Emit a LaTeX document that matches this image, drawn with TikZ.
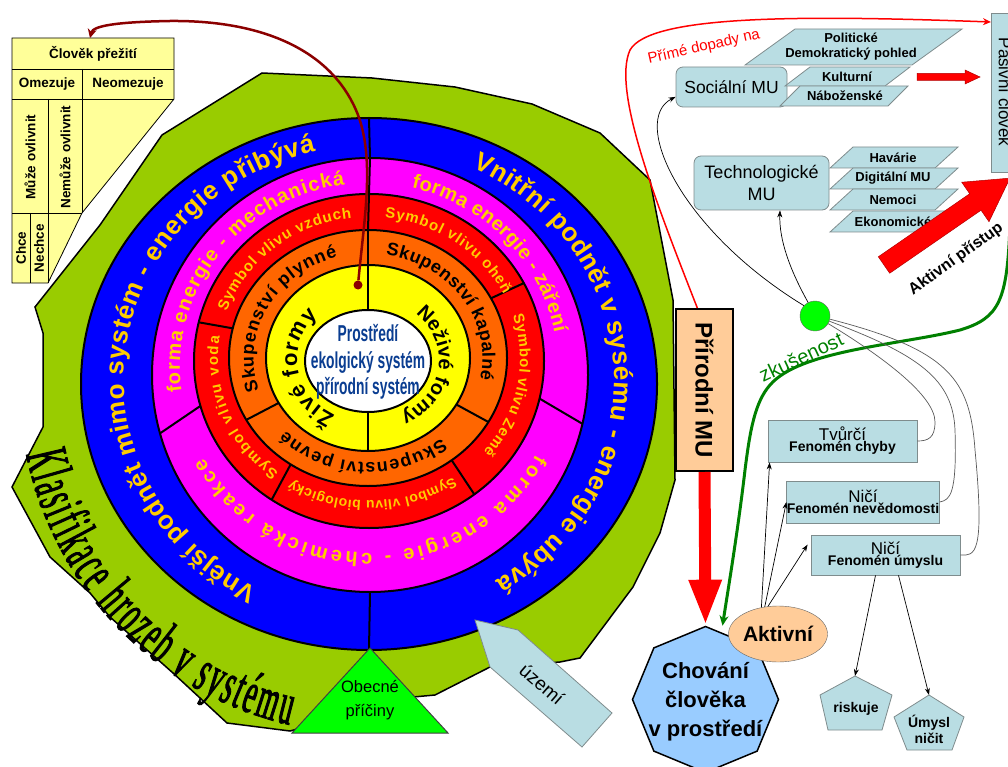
\documentclass[tikz,border=0pt]{standalone}
\usepackage{fontspec}
\setmainfont{Liberation Sans}
\newfontfamily\condsans{Liberation Sans}[FakeStretch=0.6]
\newfontfamily\narrowserif{Liberation Serif}[FakeStretch=0.45,FakeBold=1.5]
\usetikzlibrary{calc,decorations.text,arrows.meta,shapes.geometric}

\definecolor{bandgreen}{HTML}{99CC00}
\definecolor{ringblue}{HTML}{0000FF}
\definecolor{ringmag}{HTML}{FF00FF}
\definecolor{ringred}{HTML}{FF0000}
\definecolor{ringorange}{HTML}{FF6600}
\definecolor{ringyellow}{HTML}{FFFF00}
\definecolor{ringtext}{HTML}{FFCC00}
\definecolor{coreblue}{HTML}{0A3D91}
\definecolor{maroonline}{HTML}{8B0000}
\definecolor{tableyellow}{HTML}{FFFF99}
\definecolor{lightbox}{HTML}{B9DDE3}
\definecolor{boxedge}{HTML}{7F8C8D}
\definecolor{peach}{HTML}{FFCC99}
\definecolor{octblue}{HTML}{99CCFF}
\definecolor{brightgreen}{HTML}{00FF00}
\definecolor{pathgreen}{HTML}{008000}

% font presets for the ring captions
\newcommand\fBlueRing{\fontsize{26}{26}\selectfont\bfseries}
\newcommand\fMagRing{\fontsize{20}{20}\selectfont\bfseries}
\newcommand\fRedRing{\fontsize{15}{15}\selectfont\bfseries}
\newcommand\fRedSmall{\fontsize{14}{14}\selectfont\bfseries}
\newcommand\fOrRing{\fontsize{18}{18}\selectfont\bfseries}
\newcommand\fYelRing{\fontsize{20}{20}\selectfont\bfseries}
\newcommand\fYelBig{\fontsize{22}{22}\selectfont\bfseries}
\newcommand\fTitle{\narrowserif\fontsize{60}{60}\selectfont}

% text set along an elliptic arc: cx, cy, rx, ry, start, end, font, text, colour
\newcommand\arctext[9]{%
  \path[decorate,decoration={text along path,text align={fit to path},
        text color=#9,text={|#7|#8}}]
    ($(#1,#2)+(#5:#3 and #4)$) arc[start angle=#5,end angle=#6,x radius=#3,y radius=#4];}

\begin{document}
\begin{tikzpicture}[x=1pt,y=-1pt,
  ringfill/.style={draw=black,line width=2pt},
  sepline/.style={draw=black,line width=2pt},
  lbbox/.style={draw=boxedge,fill=lightbox,line width=0.8pt},
  thinarrow/.style={draw=black,line width=0.7pt,-{Stealth[length=7pt,width=5pt]}},
  tieline/.style={draw=black!65,line width=0.7pt},
  tabletext/.style={font=\bfseries\fontsize{13.5}{15}\selectfont,inner sep=0pt},
  paratext/.style={font=\bfseries\fontsize{13}{15}\selectfont,inner sep=0pt,align=center},
  plaintext/.style={inner sep=0pt,align=center}]

\useasboundingbox (0,0) rectangle (1008,767);
\clip (0,0) rectangle (1008,767);

% ---- outer green band ----
\filldraw[fill=bandgreen,draw=black,line width=1.5pt]
 (262,73) -- (372,78) -- (455,87) -- (532,104) -- (600,133) -- (650,180) -- (673,300)
 -- (675,480) -- (660,533) -- (633,587) -- (580,658) -- (560,662) -- (490,667)
 -- (435,695) -- (413,697) -- (290,731) -- (227,723) -- (173,673) -- (110,617)
 -- (90,593) -- (50,557) -- (12,487) -- (43,427) -- (43,333) -- (35,307)
 -- (100,225) -- (162,135) -- cycle;

% ---- concentric rings ----
\filldraw[ringfill,fill=ringblue]   (369,384) ellipse [x radius=288,y radius=266];
\filldraw[ringfill,fill=ringmag]    (370,375) ellipse [x radius=218,y radius=217];
\filldraw[ringfill,fill=ringred]    (369,361) ellipse [x radius=175,y radius=167];
\filldraw[ringfill,fill=ringorange] (368,358) ellipse [x radius=139,y radius=128];
\filldraw[ringfill,fill=ringyellow] (368,358) ellipse [x radius=102,y radius=93];
\filldraw[ringfill,fill=white]      (368,361) ellipse [x radius=63,y radius=51];

% ---- segment separators ----
\foreach \a in {270,90}
  \draw[sepline] ($(370,375)+(\a:218 and 217)$) -- ($(369,384)+(\a:288 and 266)$);
\foreach \a in {270,13,164.4}
  \draw[sepline] ($(369,361)+(\a:175 and 167)$) -- ($(370,375)+(\a:218 and 217)$);
\foreach \a in {270,332.2,53,123.8,193.4}
  \draw[sepline] ($(368,358)+(\a:139 and 128)$) -- ($(369,361)+(\a:175 and 167)$);
\foreach \a in {270,30,151.1}
  \draw[sepline] ($(368,358)+(\a:102 and 93)$) -- ($(368,358)+(\a:139 and 128)$);
\foreach \a in {270,90}
  \draw[sepline] ($(368,361)+(\a:63 and 51)$) -- ($(368,358)+(\a:102 and 93)$);

% ---- ring captions ----
\arctext{369}{380}{245}{234}{117}{257.5}{\fBlueRing}{Vnější podnět mimo systém - energie přibývá}{ringtext}
\arctext{369}{380}{245}{234}{295}{419}{\fBlueRing}{Vnitřní podnět v sysému - energie ubývá}{ringtext}

\arctext{369}{368}{189}{185}{172.6}{262.6}{\fMagRing}{forma energie - mechanická}{ringtext}
\arctext{369}{368}{189}{185}{283}{349}{\fMagRing}{forma energie - záření}{ringtext}
\arctext{369}{368}{189}{185}{28}{151}{\fMagRing}{forma energie - chemická reakce}{ringtext}

\arctext{369}{359}{151}{142}{199.5}{263.4}{\fRedRing}{Symbol vlivu vzduch}{ringtext}
\arctext{369}{359}{151}{142}{276}{333}{\fRedRing}{Symbol vlivu oheň}{ringtext}
\arctext{369}{359}{151}{142}{342.2}{400.8}{\fRedRing}{Symbol vlivu Země}{ringtext}
\arctext{369}{359}{151}{142}{56.2}{121}{\fRedSmall}{Symbol vlivu biologický}{ringtext}
\arctext{369}{359}{151}{142}{126.7}{189.2}{\fRedRing}{Symbol vlivu voda}{ringtext}

\arctext{368}{358}{114.5}{104.5}{162}{254.6}{\fOrRing}{Skupenství plynné}{black}
\arctext{368}{358}{114.5}{104.5}{279}{372}{\fOrRing}{Skupenství kapalné}{black}
\arctext{368}{358}{114.5}{104.5}{50}{136}{\fOrRing}{Skupenství pevné}{black}

\arctext{368}{360}{71}{62}{117.7}{225}{\fYelBig}{Živé formy}{black}
\arctext{368}{360}{71}{62}{312}{422}{\fYelRing}{Neživé formy}{black}

\arctext{369}{384}{350}{350}{168.4}{103.2}{\fTitle}{Klasifikace hrozeb v systému}{black}

% ---- core ----
\node[plaintext,text=coreblue,font=\condsans\bfseries\fontsize{23}{26.5}\selectfont]
  (core) at (368,362) {Prostředí\\ekolgický systém\\přírodní systém};

% ---- general causes and territory ----
\filldraw[fill=brightgreen,draw=black!75,line width=1pt]
  (370,648) -- (448,733) -- (292,733) -- cycle;
\node[plaintext,font=\fontsize{16.5}{24}\selectfont] (obec) at (370,700) {Obecné\\příčiny};

\filldraw[fill=lightbox,draw=boxedge,line width=0.8pt]
  (475,620) -- (518,630) -- (612,713) -- (582,747) -- (490,667) -- cycle;
\node[plaintext,rotate=-41,font=\fontsize{19}{19}\selectfont] (uzemi) at (542,684) {území};

% ---- survival table ----
\filldraw[fill=tableyellow,draw=black,line width=0.8pt]
  (12,38) -- (174,38) -- (174,99) -- (82,213) -- (48,283) -- (12,283) -- cycle;
\draw[black,line width=0.8pt] (12,69) -- (174,69) (12,99) -- (174,99)
  (82,69) -- (82,213) (48,99) -- (48,283) (12,213) -- (82,213) (30,213) -- (30,283);
\node[tabletext] (hdr) at (93,54) {Člověk přežití};
\node[tabletext] (omez) at (47,84) {Omezuje};
\node[tabletext] (neomez) at (128,84) {Neomezuje};
\node[tabletext,rotate=90] (muze) at (30,157) {Může ovlivnit};
\node[tabletext,rotate=90] (nemuze) at (65,157) {Nemůže ovlivnit};
\node[tabletext,rotate=90] (chce) at (21,248) {Chce};
\node[tabletext,rotate=90] (nechce) at (39,248) {Nechce};
\coordinate (hdrtop) at (90,38);

% ---- link from the centre to the table ----
\node[circle,fill=maroonline,inner sep=0pt,minimum size=9pt] (dot) at (358,285) {};
\draw[maroonline,line width=2.5pt,-{Stealth[length=9pt,width=9pt]}]
  (dot) .. controls (364,220) and (375,160) .. (358,115)
        .. controls (335,55) and (270,20) .. (170,21)
        .. controls (115,22) and (93,26) .. (hdrtop);

% ---- right-hand side ----
\node[lbbox,rounded corners=7pt,minimum width=111pt,minimum height=40pt,
      font=\fontsize{17.5}{20}\selectfont] (soc) at (731.5,87) {Sociální MU};
\node[lbbox,rounded corners=7pt,minimum width=135pt,minimum height=54pt,align=center,
      font=\fontsize{18}{22}\selectfont] (tech) at (761.5,183) {Technologické\\MU};

% parallelogram tags
\filldraw[lbbox] (795,29) -- (962,29) -- (912,65) -- (745,65) -- cycle;
\node[paratext] (polit) at (851,47) {Politické\\Demokratický pohled};
\filldraw[lbbox] (810,67) -- (910,67) -- (885,86) -- (785,86) -- cycle;
\node[paratext] (kult) at (847,77) {Kulturní};
\filldraw[lbbox] (800,86) -- (908,86) -- (888,106) -- (780,106) -- cycle;
\node[paratext] (nabo) at (845,96) {Náboženské};

\foreach \y/\t/\n in {147/Havárie/hav,168/Digitální MU/dig,189/Nemoci/nem,211/Ekonomické/eko}{
  \filldraw[lbbox] (853,\y) -- (958,\y) -- (935,\y+21) -- (830,\y+21) -- cycle;
  \node[paratext] (\n) at (893,\y+10.5) {\t};
}

% passive human
\node[lbbox,minimum width=24pt,minimum height=159pt,anchor=north west,inner sep=0pt] (pas) at (991,13) {};
\node[plaintext,rotate=-90,font=\fontsize{17}{17}\selectfont] (paslbl) at (1005,92) {Pasivní člověk};

% block arrow towards the passive human
\filldraw[fill=ringred,draw=red!70!black,line width=0.5pt]
  (917,73.5) -- (965,73.5) -- (965,70) -- (980,77) -- (965,84) -- (965,80.5) -- (917,80.5) -- cycle;

% active approach arrow
\begin{scope}[shift={(884,265)},rotate=34.6]
  \filldraw[fill=ringred,draw=red!70!black,line width=0.5pt]
    (0,-10) -- (111,-10) -- (111,-24) -- (153,0) -- (111,24) -- (111,10) -- (0,10) -- cycle;
\end{scope}
\node[plaintext,rotate=36,font=\bfseries\fontsize{16}{16}\selectfont] (aktlbl) at (956,259) {Aktivní přístup};

% natural hazards
\node[draw=black,line width=2pt,fill=peach,minimum width=57pt,minimum height=162pt,inner sep=0pt] (nat) at (704.5,390) {};
\node[plaintext,rotate=-90,font=\bfseries\fontsize{24}{24}\selectfont] (natlbl) at (704.5,390) {Přírodní MU};

% direct impacts
\draw[red,line width=1.5pt,-{Stealth[length=8pt,width=7pt]}]
  (nat.95) .. controls (655,200) and (612,90) .. (630,50)
           .. controls (650,15) and (800,15) .. ($(pas.north west)+(0,9)$);
\node[plaintext,text=red,rotate=12.8,font=\fontsize{15}{15}\selectfont] (primelbl) at (704,47) {Přímé dopady na};

% hub
\node[circle,draw=black!60,fill=brightgreen,minimum size=30pt,inner sep=0pt] (gc) at (815,316) {};
\draw[thinarrow] (gc.137) .. controls (680,230) and (630,120) .. (soc.190);
\draw[thinarrow] (gc.117) .. controls (790,270) and (779,240) .. (tech.-56);

% behaviour of the human
\node[regular polygon,regular polygon sides=8,shape border rotate=22.5,minimum size=146pt,
      inner sep=0pt,draw=black,line width=1.5pt,fill=octblue] (chov) at (705.5,699.5) {};
\node[plaintext,font=\bfseries\fontsize{22}{29}\selectfont] (chovlbl) at (705.5,702) {Chování\\člověka\\v prostředí};

\draw[red,line width=12pt,-{Triangle[width=30pt,length=46pt]}] (nat.south) -- (chov.north);

% experience
\draw[pathgreen,line width=3pt,-{Stealth[length=10pt,width=9pt]}]
  (1010,225) .. controls (1007,300) and (1000,318) .. (960,330)
             .. controls (900,345) and (800,350) .. (770,385)
             .. controls (755,402) and (750,430) .. (745,470)
             .. controls (738,530) and (728,590) .. ($(chov.north)+(17,0)$);
\node[plaintext,text=pathgreen,rotate=25,font=\fontsize{20}{20}\selectfont] (zkus) at (801,357) {zkušenost};

% phenomena boxes
\node[lbbox,minimum width=149pt,minimum height=42pt,align=center] (tv) at (842.5,441)
  {{\fontsize{17}{19}\selectfont Tvůrčí}\\[-1pt]{\bfseries\fontsize{14}{16}\selectfont Fenomén chyby}};
\node[lbbox,minimum width=150pt,minimum height=42pt,inner sep=0pt,align=center] (nev) at (863,502)
  {{\fontsize{17}{19}\selectfont Ničí}\\[-1pt]{\bfseries\fontsize{14}{16}\selectfont Fenomén nevědomosti}};
\node[lbbox,minimum width=149pt,minimum height=40pt,align=center] (um) at (885.5,555)
  {{\fontsize{17}{19}\selectfont Ničí}\\[-1pt]{\bfseries\fontsize{14}{16}\selectfont Fenomén úmyslu}};

\draw[tieline] (gc.-30) .. controls (880,355) and (935,395) .. (935,422)
               .. controls (935,438) and (928,441) .. (tv.east);
\draw[tieline] (gc.-20) .. controls (920,355) and (953,380) .. (955,430)
               .. controls (957,495) and (950,500) .. (nev.east);
\draw[tieline] (gc.-12) .. controls (950,350) and (970,380) .. (975,450)
               .. controls (985,555) and (975,556) .. (um.east);

% active human
\node[ellipse,draw=black!60,fill=peach,minimum width=94pt,minimum height=56pt,inner sep=0pt,
      font=\bfseries\fontsize{21}{21}\selectfont] (akt) at (778,634) {Aktivní};
\draw[thinarrow] (akt.122) -- ($(tv.south west)+(2,0)$);
\draw[thinarrow] (akt.116) -- (nev.west);
\draw[thinarrow] (akt.110) -- ($(um.north west)+(-3,10)$);

% outcomes
\filldraw[lbbox] (855,676) -- (892,695) -- (882,730) -- (828,730) -- (820,695) -- cycle;
\node[plaintext,font=\bfseries\fontsize{14}{16}\selectfont] (risk) at (856,709) {riskuje};
\coordinate (risktop) at (855,676);
\filldraw[lbbox] (929,695) -- (964,717) -- (952,750) -- (907,750) -- (894,717) -- cycle;
\node[plaintext,font=\bfseries\fontsize{14}{16}\selectfont] (umysl) at (929,729) {Úmysl\\ničit};
\coordinate (umysltop) at (929,695);
\draw[thinarrow] ($(um.south)+(-10,0)$) -- (risktop);
\draw[thinarrow] ($(um.south)+(13,0)$) -- (umysltop);

\end{tikzpicture}
\end{document}
